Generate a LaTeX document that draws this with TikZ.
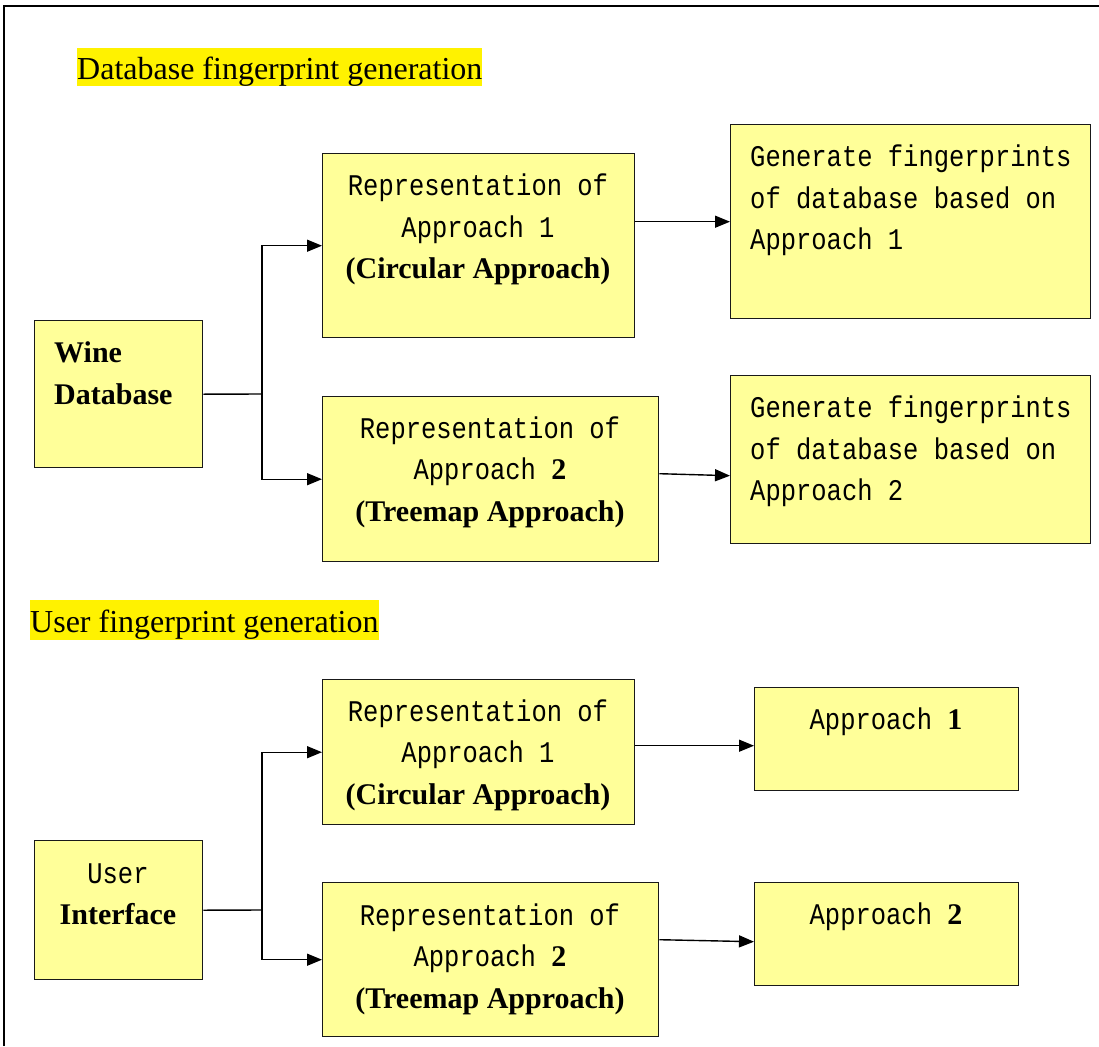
\documentclass[tikz,border=0pt]{standalone}
\usepackage{fontspec}
\setmainfont{Liberation Serif}
\newfontfamily\monof[FakeStretch=0.85]{Liberation Mono}
\usetikzlibrary{arrows.meta}
\definecolor{boxyellow}{HTML}{FFFF99}
\newcommand\serbf[1]{{\rmfamily\bfseries #1}}
\tikzset{
  box/.style={draw=black!90, line width=1.4pt, fill=boxyellow, inner sep=0, anchor=north west},
  txt/.style={inner sep=0, font=\fontsize{30}{41.5}\selectfont},
  hl/.style={fill=yellow, inner sep=0, anchor=north west, font=\fontsize{32}{38}\selectfont},
  conn/.style={line width=1.4pt, black},
  arr/.style={conn, -{Triangle[length=15pt,width=12pt]}}
}
\begin{document}
\begin{tikzpicture}[x=1pt,y=-1pt]
\useasboundingbox (0,0) rectangle (1099,1046);
% frame
\draw[line width=2pt] (4,1046) -- (4,6) -- (1099,6);

% headers
\node[hl, text height=31pt, text depth=7pt] (h1) at (77,48) {Database fingerprint generation};
\node[hl, text height=32pt, text depth=8pt] (h2) at (30,600) {User fingerprint generation};

% top section boxes
\node[box, minimum width=168pt, minimum height=147pt] (wine) at (34,320) {};
\node[box, minimum width=312pt, minimum height=184pt] (r1) at (322,153) {};
\node[box, minimum width=336pt, minimum height=165pt] (r2) at (322,396) {};
\node[box, minimum width=360pt, minimum height=194pt] (g1) at (730,124) {};
\node[box, minimum width=360pt, minimum height=168pt] (g2) at (730,375) {};

% bottom section boxes
\node[box, minimum width=168pt, minimum height=139pt] (ui) at (34,840) {};
\node[box, minimum width=312pt, minimum height=145pt] (u1) at (322,679) {};
\node[box, minimum width=336pt, minimum height=154pt] (u2) at (322,882) {};
\node[box, minimum width=264pt, minimum height=103pt] (a1) at (754,687) {};
\node[box, minimum width=264pt, minimum height=103pt] (a2) at (754,882) {};

% texts
\node[txt, align=left, anchor=west, font=\fontsize{30}{42}\selectfont\bfseries] (winet) at (54,373) {Wine\\Database};
\node[txt, align=center] (r1t) at (478,229.5) {\monof Representation of\\\monof Approach 1\\\serbf{(Circular Approach)}};
\node[txt, align=center] (r2t) at (490,472) {\monof Representation of\\\monof Approach \serbf{2}\\\serbf{(Treemap Approach)}};
\node[txt, align=left, anchor=west] (g1t) at (750,200.5) {\monof Generate fingerprints\\\monof of database based on\\\monof Approach 1};
\node[txt, align=left, anchor=west] (g2t) at (750,451.5) {\monof Generate fingerprints\\\monof of database based on\\\monof Approach 2};

\node[txt, align=center] (uit) at (118,894.5) {\monof User\\\serbf{Interface}};
\node[txt, align=center] (u1t) at (478,755) {\monof Representation of\\\monof Approach 1\\\serbf{(Circular Approach)}};
\node[txt, align=center] (u2t) at (490,959) {\monof Representation of\\\monof Approach \serbf{2}\\\serbf{(Treemap Approach)}};
\node[txt] (a1t) at (886,722) {\monof Approach \serbf{1}};
\node[txt] (a2t) at (886,917) {\monof Approach \serbf{2}};

% connectors top
\coordinate (b1) at (262,394);
\draw[conn] (wine.east) -- (b1);
\draw[arr] (b1) |- (r1.west);
\draw[arr] (b1) |- (r2.west);
\draw[arr] (r1.east |- g1.west) -- (g1.west);
\draw[arr] ([yshift=5.5pt]r2.east) -- ([yshift=-16pt]g2.west);

% connectors bottom
\coordinate (b2) at (262,910);
\draw[conn] (ui.east) -- (b2);
\draw[arr] (b2) |- (u1.west);
\draw[arr] (b2) |- (u2.west);
\draw[arr] ([yshift=6.5pt]u1.east) -- ([yshift=-6.5pt]a1.west);
\draw[arr] ([yshift=20pt]u2.east) -- ([yshift=-7.5pt]a2.west);
\end{tikzpicture}
\end{document}
